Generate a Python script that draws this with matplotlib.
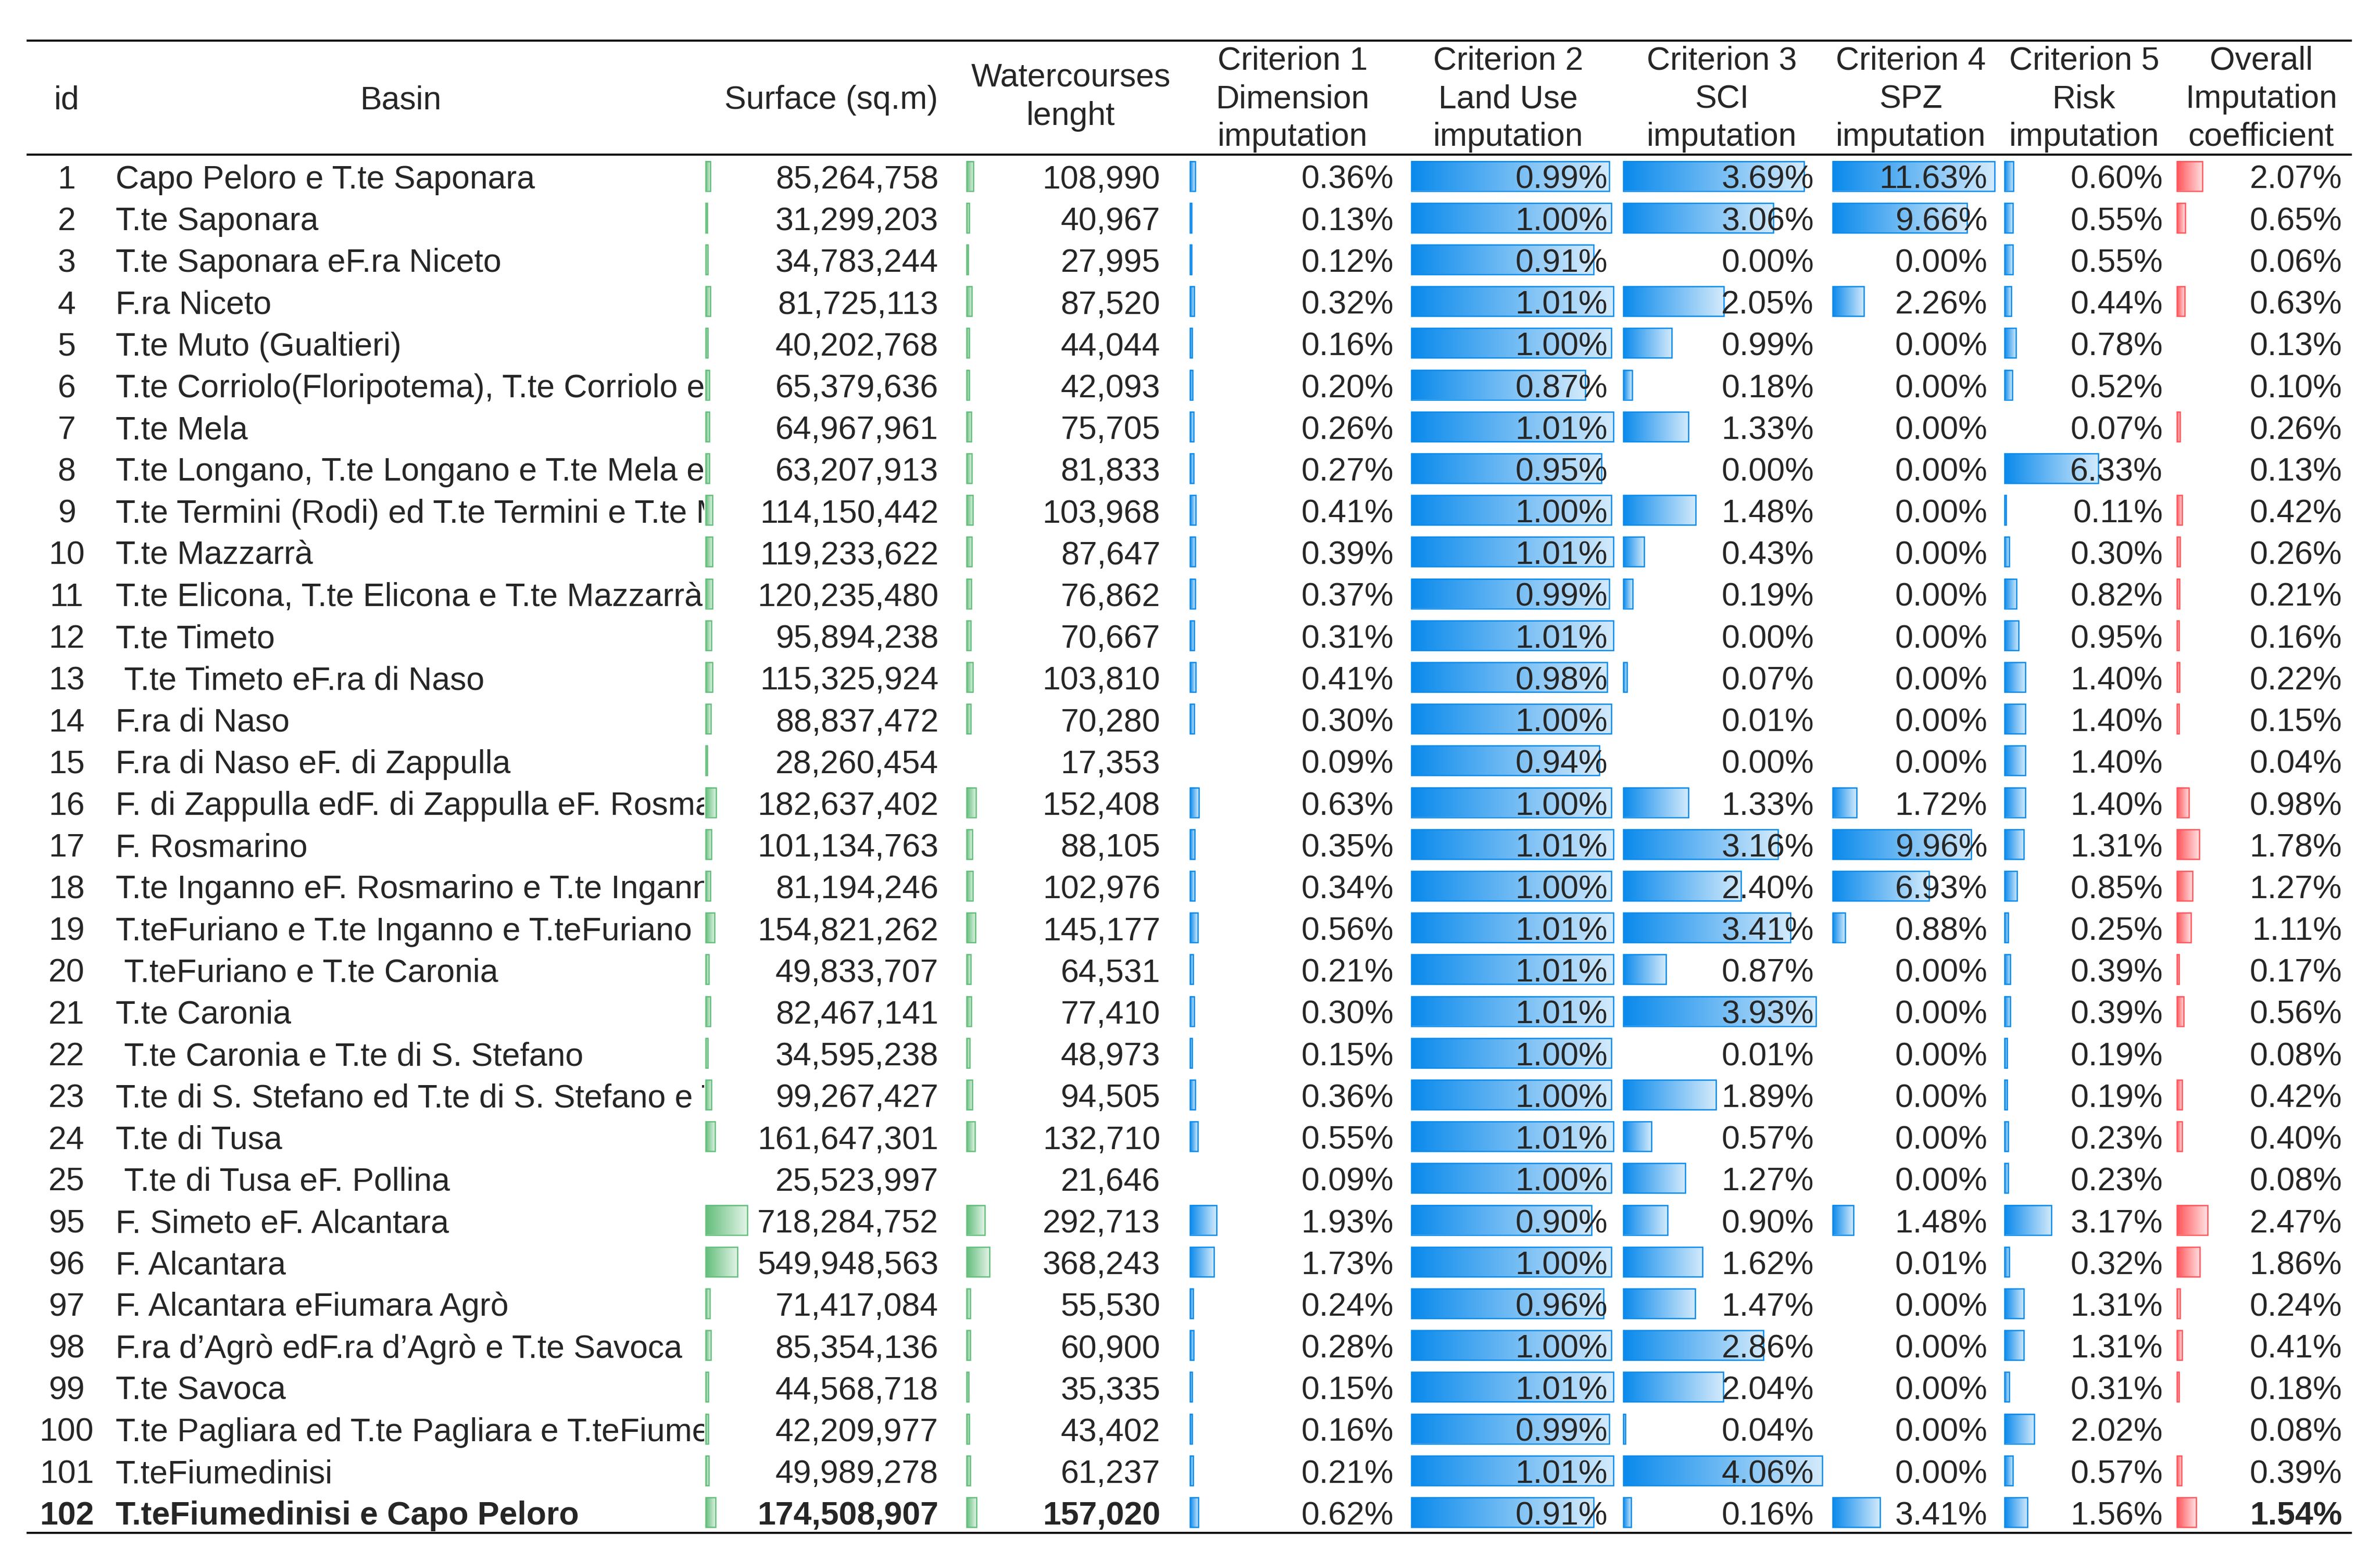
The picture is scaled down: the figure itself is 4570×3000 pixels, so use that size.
import numpy as np
import matplotlib
matplotlib.use("Agg")
import matplotlib.pyplot as plt
from matplotlib.patches import Rectangle
from matplotlib.colors import LinearSegmentedColormap, to_rgb

# ---------------- data ----------------
ids = [1, 2, 3, 4, 5, 6, 7, 8, 9, 10, 11, 12, 13, 14, 15, 16, 17, 18, 19, 20,
       21, 22, 23, 24, 25, 95, 96, 97, 98, 99, 100, 101, 102]

basins = [
    "Capo Peloro e T.te Saponara",
    "T.te Saponara",
    "T.te Saponara eF.ra Niceto",
    "F.ra Niceto",
    "T.te Muto (Gualtieri)",
    "T.te Corriolo(Floripotema), T.te Corriolo e T",
    "T.te Mela",
    "T.te Longano, T.te Longano e T.te Mela e T",
    "T.te Termini (Rodi) ed T.te Termini e T.te M",
    "T.te Mazzarrà",
    "T.te Elicona, T.te Elicona e T.te Mazzarrà e",
    "T.te Timeto",
    " T.te Timeto eF.ra di Naso",
    "F.ra di Naso",
    "F.ra di Naso eF. di Zappulla",
    "F. di Zappulla edF. di Zappulla eF. Rosmar",
    "F. Rosmarino",
    "T.te Inganno eF. Rosmarino e T.te Ingann",
    "T.teFuriano e T.te Inganno e T.teFuriano",
    " T.teFuriano e T.te Caronia",
    "T.te Caronia",
    " T.te Caronia e T.te di S. Stefano",
    "T.te di S. Stefano ed T.te di S. Stefano e T",
    "T.te di Tusa",
    " T.te di Tusa eF. Pollina",
    "F. Simeto eF. Alcantara",
    "F. Alcantara",
    "F. Alcantara eFiumara Agrò",
    "F.ra d’Agrò edF.ra d’Agrò e T.te Savoca",
    "T.te Savoca",
    "T.te Pagliara ed T.te Pagliara e T.teFiume",
    "T.teFiumedinisi",
    "T.teFiumedinisi e Capo Peloro",
]

surface = [85264758, 31299203, 34783244, 81725113, 40202768, 65379636, 64967961,
           63207913, 114150442, 119233622, 120235480, 95894238, 115325924, 88837472,
           28260454, 182637402, 101134763, 81194246, 154821262, 49833707, 82467141,
           34595238, 99267427, 161647301, 25523997, 718284752, 549948563, 71417084,
           85354136, 44568718, 42209977, 49989278, 174508907]

watercourses = [108990, 40967, 27995, 87520, 44044, 42093, 75705, 81833, 103968,
                87647, 76862, 70667, 103810, 70280, 17353, 152408, 88105, 102976,
                145177, 64531, 77410, 48973, 94505, 132710, 21646, 292713, 368243,
                55530, 60900, 35335, 43402, 61237, 157020]

crit1 = [0.36, 0.13, 0.12, 0.32, 0.16, 0.20, 0.26, 0.27, 0.41, 0.39, 0.37, 0.31,
         0.41, 0.30, 0.09, 0.63, 0.35, 0.34, 0.56, 0.21, 0.30, 0.15, 0.36, 0.55,
         0.09, 1.93, 1.73, 0.24, 0.28, 0.15, 0.16, 0.21, 0.62]

crit2 = [0.99, 1.00, 0.91, 1.01, 1.00, 0.87, 1.01, 0.95, 1.00, 1.01, 0.99, 1.01,
         0.98, 1.00, 0.94, 1.00, 1.01, 1.00, 1.01, 1.01, 1.01, 1.00, 1.00, 1.01,
         1.00, 0.90, 1.00, 0.96, 1.00, 1.01, 0.99, 1.01, 0.91]

crit3 = [3.69, 3.06, 0.00, 2.05, 0.99, 0.18, 1.33, 0.00, 1.48, 0.43, 0.19, 0.00,
         0.07, 0.01, 0.00, 1.33, 3.16, 2.40, 3.41, 0.87, 3.93, 0.01, 1.89, 0.57,
         1.27, 0.90, 1.62, 1.47, 2.86, 2.04, 0.04, 4.06, 0.16]

crit4 = [11.63, 9.66, 0.00, 2.26, 0.00, 0.00, 0.00, 0.00, 0.00, 0.00, 0.00, 0.00,
         0.00, 0.00, 0.00, 1.72, 9.96, 6.93, 0.88, 0.00, 0.00, 0.00, 0.00, 0.00,
         0.00, 1.48, 0.01, 0.00, 0.00, 0.00, 0.00, 0.00, 3.41]

crit5 = [0.60, 0.55, 0.55, 0.44, 0.78, 0.52, 0.07, 6.33, 0.11, 0.30, 0.82, 0.95,
         1.40, 1.40, 1.40, 1.40, 1.31, 0.85, 0.25, 0.39, 0.39, 0.19, 0.19, 0.23,
         0.23, 3.17, 0.32, 1.31, 1.31, 0.31, 2.02, 0.57, 1.56]

overall = [2.07, 0.65, 0.06, 0.63, 0.13, 0.10, 0.26, 0.13, 0.42, 0.26, 0.21, 0.16,
           0.22, 0.15, 0.04, 0.98, 1.78, 1.27, 1.11, 0.17, 0.56, 0.08, 0.42, 0.40,
           0.08, 2.47, 1.86, 0.24, 0.41, 0.18, 0.08, 0.39, 1.54]

headers = [
    ["id"], ["Basin"], ["Surface (sq.m)"], ["Watercourses", "lenght"],
    ["Criterion 1", "Dimension", "imputation"],
    ["Criterion 2", "Land Use", "imputation"],
    ["Criterion 3", "SCI", "imputation"],
    ["Criterion 4", "SPZ", "imputation"],
    ["Criterion 5", "Risk", "imputation"],
    ["Overall", "Imputation", "coefficient"],
]

# ---------------- layout (pixels) ----------------
W, H = 4570, 3000
fig = plt.figure(figsize=(W / 100, H / 100), dpi=100)
ax = fig.add_axes([0, 0, 1, 1])
ax.set_axis_off()

FONT = ["Liberation Sans", "Arial", "DejaVu Sans"]
FS = 45
TXT = "#262626"
GREEN, BLUE, RED = "#63BE7B", "#0A8AEC", "#FF555A"

row0, pitch = 338.0, 80.2
bar_h = 57
base_off = 24
min_bar = 3.12

x_left, x_right = 51, 4516
y_top, y_head, y_bot = 78, 297, 2944

header_x = [128, 770, 1596, 2056, 2482, 2896, 3306, 3669, 4002, 4342]
hdr_base = {1: [209], 2: [166, 240], 3: [134, 207, 280]}

# numeric columns: (values, formatter, text right edge, bar left, px per unit, color, bold-last)
num_cols = [
    (surface, lambda v: f"{v:,}", 1802, 1355, 80 / 718284752, GREEN, True),
    (watercourses, lambda v: f"{v:,}", 2228, 1856, 44 / 368243, GREEN, True),
    (crit1, lambda v: f"{v:.2f}%", 2676, 2285, 51 / 1.93, BLUE, False),
    (crit2, lambda v: f"{v:.2f}%", 3087, 2710, 388 / 1.01, BLUE, False),
    (crit3, lambda v: f"{v:.2f}%", 3483, 3117, 382 / 4.06, BLUE, False),
    (crit4, lambda v: f"{v:.2f}%", 3816, 3519, 311 / 11.63, BLUE, False),
    (crit5, lambda v: f"{v:.2f}%", 4153, 3849, 180 / 6.33, BLUE, False),
    (overall, lambda v: f"{v:.2f}%", 4497, 4180, 59 / 2.47, RED, True),
]


def grad_cmap(color):
    c = np.array(to_rgb(color))
    light = c + (1 - c) * 0.82
    return LinearSegmentedColormap.from_list("g", [c, light])


cmaps = {c: grad_cmap(c) for c in (GREEN, BLUE, RED)}
gradient = np.linspace(0, 1, 256)[None, :]

# ---------------- rules ----------------
for y in (y_top, y_head, y_bot):
    ax.plot([x_left, x_right], [y, y], color="#111111", lw=2.9,
            solid_capstyle="butt", zorder=5)

# ---------------- header ----------------
for hx, lines in zip(header_x, headers):
    for yb, txt in zip(hdr_base[len(lines)], lines):
        ax.text(hx, yb, txt, ha="center", va="baseline", fontsize=FS,
                family=FONT, color=TXT)

# ---------------- rows ----------------
clip_rect = Rectangle((180, 0), 1352 - 180, H, transform=ax.transData)
n = len(ids)
last = n - 1
for i in range(n):
    yc = row0 + pitch * i
    yb = yc + base_off
    bold = "bold" if i == last else "normal"
    ax.text(128, yb, str(ids[i]), ha="center", va="baseline", fontsize=FS,
            family=FONT, color=TXT, fontweight=bold)
    t = ax.text(222, yb, basins[i], ha="left", va="baseline", fontsize=FS,
                family=FONT, color=TXT, fontweight=bold, clip_on=True)
    t.set_clip_path(clip_rect)

    for vals, fmt, xr, xb, ppu, col, bold_last in num_cols:
        v = vals[i]
        w = v * ppu
        if w >= min_bar:
            ax.imshow(gradient, extent=(xb, xb + w, yc + bar_h / 2, yc - bar_h / 2),
                      cmap=cmaps[col], aspect="auto", interpolation="bilinear",
                      zorder=1)
            ax.add_patch(Rectangle((xb, yc - bar_h / 2), w, bar_h, fill=False,
                                   ec=col, lw=1.8, zorder=2))
        wgt = "bold" if (i == last and bold_last) else "normal"
        ax.text(xr, yb, fmt(v), ha="right", va="baseline", fontsize=FS,
                family=FONT, color=TXT, fontweight=wgt, zorder=4)

ax.set_xlim(0, W)
ax.set_ylim(H, 0)
fig.savefig("out.png", dpi=100, facecolor="white")
